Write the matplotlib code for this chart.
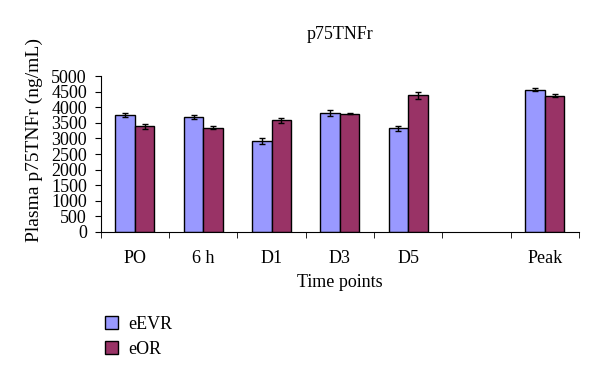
import matplotlib.pyplot as plt
import numpy as np

plt.rcParams['font.family'] = ['Liberation Serif', 'DejaVu Serif']

categories = ['PO', '6 h', 'D1', 'D3', 'D5', '', 'Peak']
eevr = [3760, 3700, 2920, 3830, 3330, np.nan, 4570]
eevr_err = [70, 60, 100, 100, 80, 0, 50]
eor = [3390, 3350, 3580, 3800, 4380, np.nan, 4370]
eor_err = [90, 60, 80, 30, 120, 0, 50]

fig = plt.figure(figsize=(6, 3.79), dpi=100)
ax = fig.add_axes([0.168, 0.388, 0.797, 0.411])

x = np.arange(len(categories))
w = 0.285
ax.bar(x - w / 2, eevr, w, yerr=eevr_err, color='#9999ff', edgecolor='black',
       linewidth=1, capsize=2.5, error_kw={'elinewidth': 1, 'capthick': 1}, label='eEVR')
ax.bar(x + w / 2, eor, w, yerr=eor_err, color='#993366', edgecolor='black',
       linewidth=1, capsize=2.5, error_kw={'elinewidth': 1, 'capthick': 1}, label='eOR')

ax.set_xlim(-0.5, len(categories) - 0.5)
ax.set_ylim(0, 5000)
ax.set_yticks(np.arange(0, 5001, 500))
ax.set_xticks(x)
ax.set_xticklabels(categories)
ax.set_xticks(np.arange(-0.5, len(categories)), minor=True)
ax.tick_params(axis='x', which='major', length=0, labelsize=13, pad=13)
ax.tick_params(axis='x', which='minor', length=4, direction='out')
ax.tick_params(axis='y', labelsize=13, length=4, pad=6)
for s in ['top', 'right']:
    ax.spines[s].set_visible(False)

ax.set_title('p75TNFr', fontsize=13, pad=27)
ax.set_xlabel('Time points', fontsize=13, labelpad=5)
ax.set_ylabel('Plasma p75TNFr (ng/mL)', fontsize=14, labelpad=6)
ax.yaxis.label.set_y(0.59)

fig.legend(loc='upper left', bbox_to_anchor=(0.148, 0.21), frameon=False,
           fontsize=13, handlelength=0.7, handleheight=0.7, handletextpad=0.6,
           labelspacing=0.45)

fig.savefig('out.png', dpi=100)
